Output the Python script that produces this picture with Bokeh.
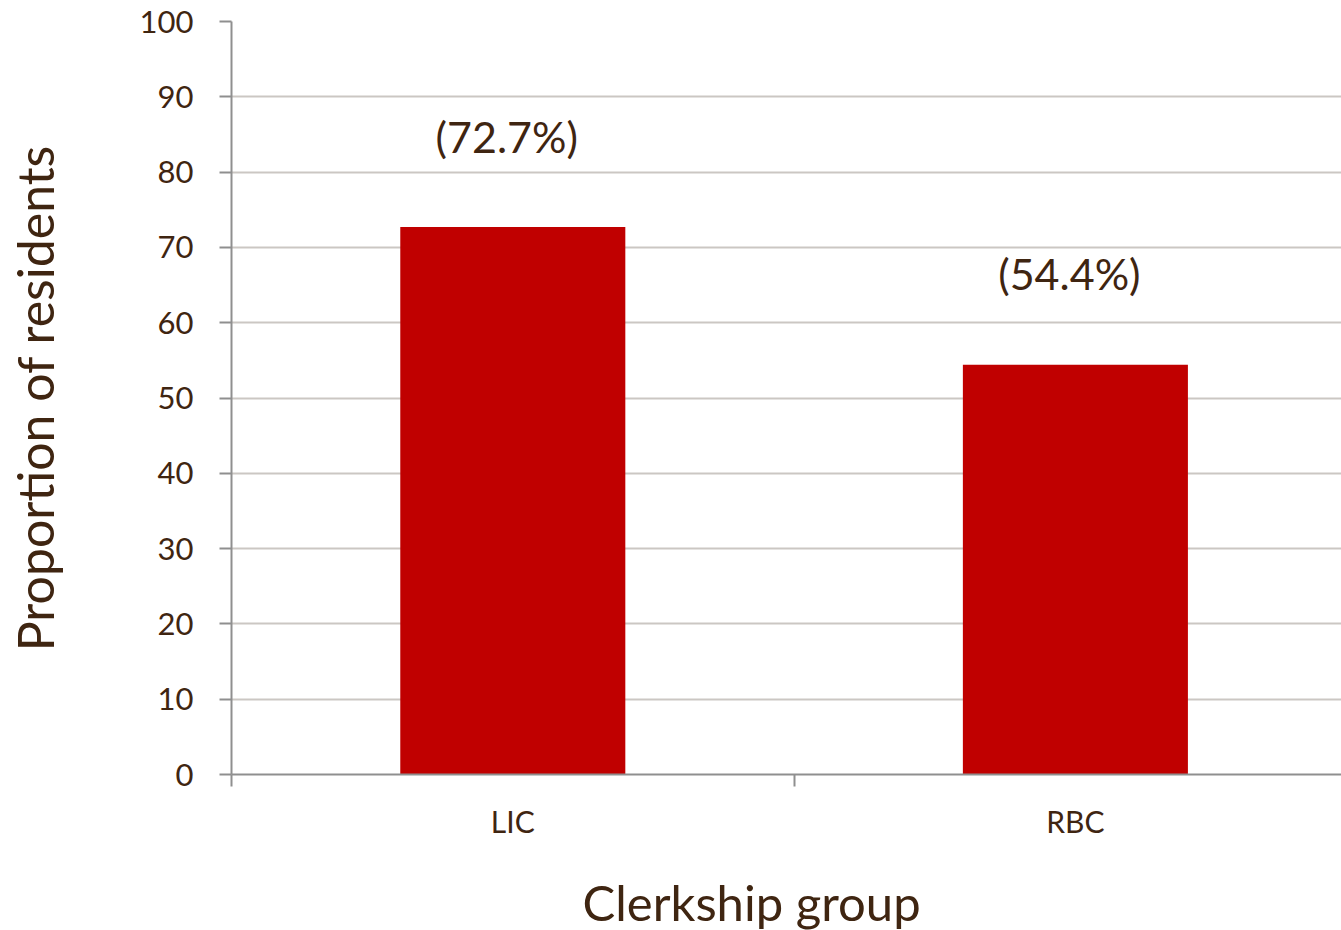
from bokeh.plotting import figure
from bokeh.models import ColumnDataSource, FixedTicker, Range1d, Title
from bokeh.core.properties import value
from bokeh.embed import file_html
from bokeh.resources import INLINE

groups = ["LIC", "RBC"]
proportions = [72.7, 54.4]
labels = ["(72.7%)", "(54.4%)"]
y_ticks = [0, 10, 20, 30, 40, 50, 60, 70, 80, 90, 100]

FONT = "Lato"
TXT = "#3f2511"

xs = [i + 0.5 for i in range(len(groups))]
src = ColumnDataSource(dict(x=xs, top=proportions, lab=labels))

p = figure(frame_width=1110, frame_height=753, output_backend="svg", toolbar_location=None,
           x_range=Range1d(0, 1.973), y_range=Range1d(0, 100))
p.min_border_left = 231
p.min_border_right = 0
p.min_border_top = 21
p.min_border_bottom = 156
p.outline_line_color = None
p.background_fill_color = "white"
p.border_fill_color = "white"

p.vbar(x="x", top="top", width=0.4, bottom=0, source=src, fill_color="#c00000", line_color=None)
p.text(x="x", y="top", text="lab", source=src, text_font=value(FONT), text_font_size="43px",
       text_color=TXT, text_align="center", text_baseline="middle", y_offset=-91, x_offset=-6)

# y axis
ya = p.yaxis[0]
ya.ticker = FixedTicker(ticks=y_ticks, minor_ticks=[])
ya.axis_line_color = "#8f8f8f"
ya.axis_line_width = 2
ya.major_tick_line_color = "#8f8f8f"
ya.major_tick_line_width = 2
ya.major_tick_out = 12
ya.major_tick_in = 0
ya.minor_tick_line_color = None
ya.major_label_text_font = FONT
ya.major_label_text_font_size = "31px"
ya.major_label_text_color = TXT
ya.major_label_standoff = 26
ya.axis_label = "Proportion of residents"
ya.axis_label_text_font = FONT
ya.axis_label_text_font_size = "50px"
ya.axis_label_text_font_style = "normal"
ya.axis_label_text_color = TXT
ya.axis_label_standoff = 72

# x axis
xa = p.xaxis[0]
xa.ticker = FixedTicker(ticks=xs, minor_ticks=list(range(len(groups) + 1)))
xa.major_label_overrides = {x: g for x, g in zip(xs, groups)}
xa.axis_line_color = "#8f8f8f"
xa.axis_line_width = 2
xa.major_tick_line_color = None
xa.major_tick_out = 0
xa.major_tick_in = 0
xa.minor_tick_line_color = "#8f8f8f"
xa.minor_tick_line_width = 2
xa.minor_tick_out = 12
xa.minor_tick_in = 0
xa.major_label_text_font = FONT
xa.major_label_text_font_size = "30px"
xa.major_label_text_color = TXT
xa.major_label_standoff = 16

# x axis title, placed as in the original layout
xt = Title(text="Clerkship group", align="left", offset=351, text_font=FONT,
           text_font_size="49px", text_font_style="normal", text_color=TXT, standoff=58)
p.add_layout(xt, "below")

p.xgrid.grid_line_color = None
p.ygrid.grid_line_color = "#cbc7c3"
p.ygrid.grid_line_width = 2
p.ygrid.ticker = FixedTicker(ticks=y_ticks)

open("out.html", "w").write(file_html(p, INLINE))
